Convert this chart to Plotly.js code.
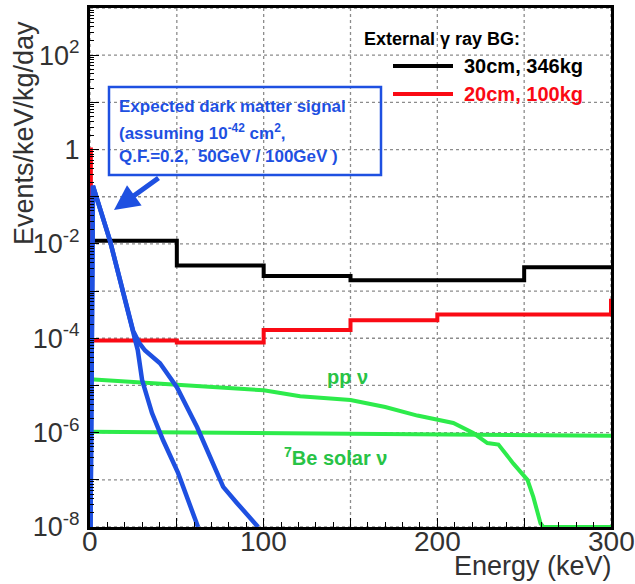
<!DOCTYPE html>
<html>
<head>
<meta charset="utf-8">
<script src="https://cdn.plot.ly/plotly-3.0.1.min.js"></script>
<style>html,body{margin:0;padding:0;background:#fff;}#chart{width:635px;height:584px;}</style>
</head>
<body>
<div id="chart"></div>
<script>
// ---- data ----
// External gamma-ray background, 30cm / 346kg (bin edges in keV, level per bin)
const black30Edges = [0, 50, 100, 150, 250, 300];
const black30Levels = [0.0117, 0.0035, 0.0021, 0.0017, 0.0032, 0.0032];
// External gamma-ray background, 20cm / 100kg
const red20Edges = [0, 0.5, 50, 100, 150, 200, 300, 300];
const red20Levels = [1.0, 9.0e-5, 8.1e-5, 1.5e-4, 2.4e-4, 3.2e-4, 3.2e-4, 6.9e-4];
// Expected dark matter signal, 50 GeV
const dm50Energy = [0.3, 1.7, 11.5, 17.3, 24.8, 27.5, 30.0, 35.7, 42.1, 50.7, 62.2];
const dm50Rate = [1e-8, 0.17, 0.0117, 1.66e-3, 1.45e-4, 5.6e-5, 1.3e-5, 2.6e-6, 6.9e-7, 1.4e-7, 1e-8];
// Expected dark matter signal, 100 GeV
const dm100Energy = [0.3, 1.7, 11.5, 17.3, 24.8, 28.2, 31.7, 40.3, 50.1, 61.7, 76.7, 84.7, 96.8];
const dm100Rate = [1e-8, 0.17, 0.0117, 1.66e-3, 1.45e-4, 8.1e-5, 5.5e-5, 2.95e-5, 9.1e-6, 1.3e-6, 7.1e-8, 3.2e-8, 1e-8];
// pp solar neutrinos
const ppEnergy = [0, 50, 100, 121, 150, 170, 188.5, 209.2, 220.7, 228.8, 235.2, 243.8, 251.9, 255.3, 259.4, 261, 300];
const ppRate = [1.35e-5, 1.02e-5, 7.9e-6, 5.9e-6, 4.9e-6, 3.5e-6, 2.3e-6, 1.6e-6, 9.8e-7, 6.0e-7, 5.6e-7, 2.2e-7, 1e-7, 4.3e-8, 1.2e-8, 1e-8, 1e-8];
// 7Be solar neutrinos
const be7Energy = [0, 300];
const be7Rate = [1.04e-6, 8.6e-7];

// ---- tick labels ----
const xTickVals = [0, 50, 100, 150, 200, 250, 300];
const xTickText = ['0', '', '100', '', '200', '', '300'];
const yTickVals = [1e-8, 1e-7, 1e-6, 1e-5, 1e-4, 1e-3, 1e-2, 1e-1, 1, 10, 100, 1000];
const yTickText = ['10<sup>-8</sup>', ' ', '10<sup>-6</sup>', ' ', '10<sup>-4</sup>', ' ', '10<sup>-2</sup>', ' ', '1', ' ', '10<sup>2</sup>', ' '];

// ---- styling ----
const BLUE = 'rgb(30,80,225)';
const RED = 'rgb(250,10,20)';
const GREEN = 'rgb(45,235,75)';
const GREEN_TXT = 'rgb(40,195,70)';
const TXT = 'rgb(50,50,50)';
const GRID = 'rgb(140,140,140)';
const AX_FONT = '"Liberation Sans Narrow", "Liberation Sans", Arial, sans-serif';
const BOLD_FONT = '"Liberation Sans", Arial, sans-serif';

const L = 90, R = 24, T = 8, B = 57, W = 635, H = 584;
const PW = W - L - R, PH = H - T - B;
const px = x => (x - L) / PW;
const py = y => (H - B - y) / PH;

const traces = [
  {x: ppEnergy, y: ppRate, mode: 'lines', line: {color: GREEN, width: 4}, name: 'pp ν'},
  {x: be7Energy, y: be7Rate, mode: 'lines', line: {color: GREEN, width: 4}, name: '7Be solar ν'},
  {x: black30Edges, y: black30Levels, mode: 'lines', line: {color: '#000', width: 4, shape: 'hv'}, name: '30cm, 346kg'},
  {x: red20Edges, y: red20Levels, mode: 'lines', line: {color: RED, width: 4, shape: 'hv'}, name: '20cm, 100kg'},
  {x: dm50Energy, y: dm50Rate, mode: 'lines', line: {color: BLUE, width: 4.5}, name: 'DM 50GeV'},
  {x: dm100Energy, y: dm100Rate, mode: 'lines', line: {color: BLUE, width: 4.5}, name: 'DM 100GeV'}
];

const boxFont = {family: BOLD_FONT, size: 17, color: BLUE};
const annotations = [
  {xref: 'paper', yref: 'paper', x: px(117), y: py(107), xanchor: 'left', yanchor: 'middle', showarrow: false,
   text: '<b>Expected dark matter signal</b>', font: boxFont},
  {xref: 'paper', yref: 'paper', x: px(117), y: py(132), xanchor: 'left', yanchor: 'middle', showarrow: false,
   text: '<b>(assuming 10<sup>-42</sup> cm<sup>2</sup>,</b>', font: boxFont},
  {xref: 'paper', yref: 'paper', x: px(117), y: py(157), xanchor: 'left', yanchor: 'middle', showarrow: false,
   text: '<b>Q.F.=0.2,  50GeV / 100GeV )</b>', font: boxFont},
  {xref: 'paper', yref: 'paper', x: px(114), y: py(210), ax: 46, ay: -33, showarrow: true, text: '',
   arrowcolor: BLUE, arrowwidth: 5, arrowhead: 2, arrowsize: 1},
  {xref: 'paper', yref: 'paper', x: px(362), y: py(39), xanchor: 'left', yanchor: 'middle', showarrow: false,
   text: '<b>External γ ray BG:</b>', font: {family: BOLD_FONT, size: 18, color: '#000'}},
  {xref: 'paper', yref: 'paper', x: px(462), y: py(66), xanchor: 'left', yanchor: 'middle', showarrow: false,
   text: '<b>30cm, 346kg</b>', font: {family: BOLD_FONT, size: 20, color: '#000'}},
  {xref: 'paper', yref: 'paper', x: px(462), y: py(94), xanchor: 'left', yanchor: 'middle', showarrow: false,
   text: '<b>20cm, 100kg</b>', font: {family: BOLD_FONT, size: 20, color: RED}},
  {xref: 'paper', yref: 'paper', x: px(347), y: py(377), xanchor: 'center', yanchor: 'middle', showarrow: false,
   text: '<b>pp ν</b>', font: {family: BOLD_FONT, size: 20, color: GREEN_TXT}},
  {xref: 'paper', yref: 'paper', x: px(282), y: py(456), xanchor: 'left', yanchor: 'middle', showarrow: false,
   text: '<b><sup>7</sup>Be solar ν</b>', font: {family: BOLD_FONT, size: 20, color: GREEN_TXT}},
  {xref: 'paper', yref: 'paper', x: px(614), y: py(566), xanchor: 'right', yanchor: 'middle', showarrow: false,
   text: 'Energy (keV)', font: {family: AX_FONT, size: 27, color: TXT}},
  {xref: 'paper', yref: 'paper', x: px(24), y: py(133), xanchor: 'center', yanchor: 'middle', showarrow: false,
   textangle: -90, text: 'Events/keV/kg/day', font: {family: AX_FONT, size: 27, color: TXT}}
];
// x tick labels, placed at the tick values
xTickVals.forEach((v, i) => {
  if (xTickText[i]) annotations.push({xref: 'x', yref: 'paper', x: v, y: py(541), xanchor: 'center', yanchor: 'middle',
    showarrow: false, text: xTickText[i], font: {family: AX_FONT, size: 28, color: TXT}});
});

const shapes = [
  {type: 'rect', xref: 'paper', yref: 'paper', x0: px(109), x1: px(381), y0: py(175), y1: py(87),
   line: {color: BLUE, width: 2.5}, fillcolor: 'rgba(0,0,0,0)'},
  {type: 'line', xref: 'paper', yref: 'paper', x0: px(393), x1: px(453), y0: py(66), y1: py(66),
   line: {color: '#000', width: 4}},
  {type: 'line', xref: 'paper', yref: 'paper', x0: px(393), x1: px(453), y0: py(94), y1: py(94),
   line: {color: RED, width: 4}}
];
// dotted grid lines at every tick value (shape coordinates on the log axis are data values)
xTickVals.forEach(v => shapes.push({type: 'line', layer: 'below', xref: 'x', yref: 'paper', x0: v, x1: v, y0: 0, y1: 1,
  line: {color: GRID, width: 1.3, dash: 'dot'}}));
yTickVals.forEach(v => shapes.push({type: 'line', layer: 'below', xref: 'paper', yref: 'y', x0: 0, x1: 1,
  y0: v, y1: v, line: {color: GRID, width: 1.3, dash: 'dot'}}));

const layout = {
  width: W, height: H,
  margin: {l: L, r: R, t: T, b: B, pad: 0},
  paper_bgcolor: '#fff', plot_bgcolor: 'rgba(0,0,0,0)',
  showlegend: false,
  xaxis: {
    range: [0, 300], tickmode: 'array', tickvals: xTickVals, showticklabels: false,
    ticks: 'inside', ticklen: 9, tickwidth: 1.2, tickcolor: '#000',
    showline: true, linewidth: 3, linecolor: '#000', mirror: true,
    showgrid: false, zeroline: false,
    minor: {ticks: 'inside', ticklen: 5, dtick: 10, tickcolor: '#000', tickwidth: 1, showgrid: false}
  },
  yaxis: {
    type: 'log', range: [-8, 3], tickmode: 'array', tickvals: yTickVals, ticktext: yTickText,
    ticks: 'inside', ticklen: 9, tickwidth: 1.2, tickcolor: '#000',
    showline: true, linewidth: 3, linecolor: '#000', mirror: true,
    showgrid: false, zeroline: false,
    minor: {ticks: 'inside', ticklen: 4, dtick: 'D1', tickcolor: '#000', tickwidth: 1, showgrid: false},
    tickfont: {family: AX_FONT, size: 27, color: TXT}, ticklabelstandoff: 2
  },
  annotations: annotations,
  shapes: shapes
};

Plotly.newPlot('chart', traces, layout, {displayModeBar: false});
</script>
</body>
</html>
